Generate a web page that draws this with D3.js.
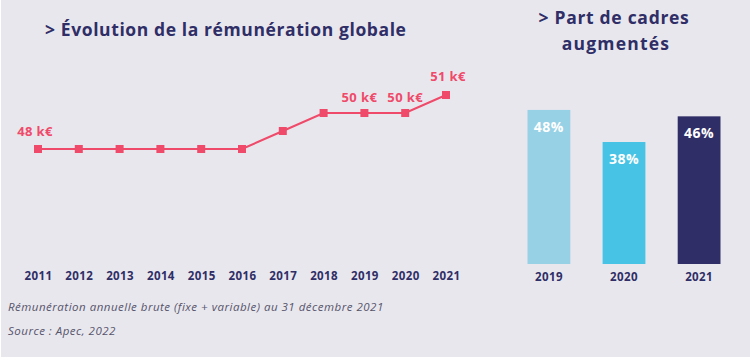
<!DOCTYPE html>
<html>
<head>
<meta charset="utf-8">
<script src="https://cdn.jsdelivr.net/npm/d3@7"></script>
<style>
  html, body { margin: 0; padding: 0; background: #ffffff; }
  svg { display: block; font-family: "Open Sans", sans-serif; }
</style>
</head>
<body>
<svg id="chart"></svg>
<script>
// donnees
var years = ['2011', '2012', '2013', '2014', '2015', '2016', '2017', '2018', '2019', '2020', '2021'];
var salaire = [48, 48, 48, 48, 48, 48, 49, 50, 50, 50, 51];
var salaireLabels = ['48 k€', '', '', '', '', '', '', '', '50 k€', '50 k€', '51 k€'];

var barYears = ['2019', '2020', '2021'];
var partAugmentes = [48, 38, 46];
var barColors = ['#97d1e6', '#46c3e5', '#302e67'];

var W = 750, H = 360;
var navy = '#2f2e66';
var rose = '#ef4a69';

var svg = d3.select('#chart').attr('width', W).attr('height', H);

svg.append('rect').attr('x', 1).attr('y', 0).attr('width', W - 1).attr('height', H - 3)
    .attr('fill', '#e9e7ee');

// ---- courbe de la remuneration ----
var x = d3.scalePoint().domain(years).range([38, 446]);
var y = d3.scaleLinear().domain([48, 51]).range([149, 95]);

svg.append('text')
    .attr('x', 45).attr('y', 36)
    .attr('fill', navy)
    .attr('font-size', 17.5).attr('font-weight', 700).attr('letter-spacing', 0.6)
    .text('> Évolution de la rémunération globale');

var axisX = d3.axisBottom(x).tickSize(0).tickPadding(0);
var gx = svg.append('g').attr('transform', 'translate(0,272)').call(axisX);
gx.select('.domain').remove();
gx.selectAll('text')
    .attr('fill', navy).attr('font-size', 11.5).attr('font-weight', 700).attr('letter-spacing', 0.4)
    .attr('font-family', '"Open Sans", sans-serif');

var line = d3.line()
    .x(function(d, i) { return x(years[i]); })
    .y(function(d) { return y(d); });

svg.append('path')
    .datum(salaire)
    .attr('d', line)
    .attr('fill', 'none')
    .attr('stroke', rose)
    .attr('stroke-width', 2);

svg.selectAll('.pt')
    .data(salaire)
    .enter().append('rect')
    .attr('class', 'pt')
    .attr('x', function(d, i) { return x(years[i]) - 4; })
    .attr('y', function(d) { return y(d) - 4; })
    .attr('width', 8).attr('height', 8)
    .attr('fill', rose);

// decalages des etiquettes comme sur l'original
var dxLbl = { 0: -3, 8: -5, 9: 0, 10: 2 };
var dyLbl = { 0: 13, 8: 11, 9: 11, 10: 14 };

svg.selectAll('.lbl')
    .data(salaire)
    .enter().append('text')
    .attr('class', 'lbl')
    .attr('x', function(d, i) { return x(years[i]) + (dxLbl[i] || 0); })
    .attr('y', function(d, i) { return y(d) - (dyLbl[i] || 12); })
    .attr('text-anchor', 'middle')
    .attr('fill', rose)
    .attr('font-size', 13).attr('font-weight', 700).attr('letter-spacing', 0.4)
    .text(function(d, i) { return salaireLabels[i]; });

svg.append('text')
    .attr('x', 8).attr('y', 311)
    .attr('fill', '#55546a').attr('font-size', 11.5).attr('font-style', 'italic').attr('letter-spacing', 0.5)
    .text('Rémunération annuelle brute (fixe + variable) au 31 décembre 2021');

svg.append('text')
    .attr('x', 8).attr('y', 335)
    .attr('fill', '#55546a').attr('font-size', 11.5).attr('font-style', 'italic').attr('letter-spacing', 0.5)
    .text('Source : Apec, 2022');

// ---- barres part de cadres augmentes ----
var xb = d3.scaleBand().domain(barYears).range([527.5, 720.5]).paddingInner(0.43).paddingOuter(0);
var yb = d3.scaleLinear().domain([0, 50]).range([264, 103.5]);

svg.append('text')
    .attr('x', 614).attr('y', 24)
    .attr('text-anchor', 'middle')
    .attr('fill', navy).attr('font-size', 17.5).attr('font-weight', 700).attr('letter-spacing', 0.7)
    .text('> Part de cadres');
svg.append('text')
    .attr('x', 616).attr('y', 50)
    .attr('text-anchor', 'middle')
    .attr('fill', navy).attr('font-size', 17.5).attr('font-weight', 700).attr('letter-spacing', 1.2)
    .text('augmentés');

svg.selectAll('.bar')
    .data(partAugmentes)
    .enter().append('rect')
    .attr('class', 'bar')
    .attr('x', function(d, i) { return xb(barYears[i]); })
    .attr('y', function(d) { return yb(d); })
    .attr('width', xb.bandwidth())
    .attr('height', function(d) { return yb(0) - yb(d); })
    .attr('fill', function(d, i) { return barColors[i]; });

svg.selectAll('.barlbl')
    .data(partAugmentes)
    .enter().append('text')
    .attr('class', 'barlbl')
    .attr('x', function(d, i) { return xb(barYears[i]) + xb.bandwidth() / 2; })
    .attr('y', function(d) { return yb(d) + 22; })
    .attr('text-anchor', 'middle')
    .attr('fill', '#ffffff').attr('font-size', 14).attr('font-weight', 700).attr('letter-spacing', 0.5)
    .text(function(d) { return d + '%'; });

var axisB = d3.axisBottom(xb).tickSize(0).tickPadding(0);
var gb = svg.append('g').attr('transform', 'translate(0,273)').call(axisB);
gb.select('.domain').remove();
gb.selectAll('text')
    .attr('fill', navy).attr('font-size', 11.5).attr('font-weight', 700).attr('letter-spacing', 0.4)
    .attr('font-family', '"Open Sans", sans-serif');
</script>
</body>
</html>
